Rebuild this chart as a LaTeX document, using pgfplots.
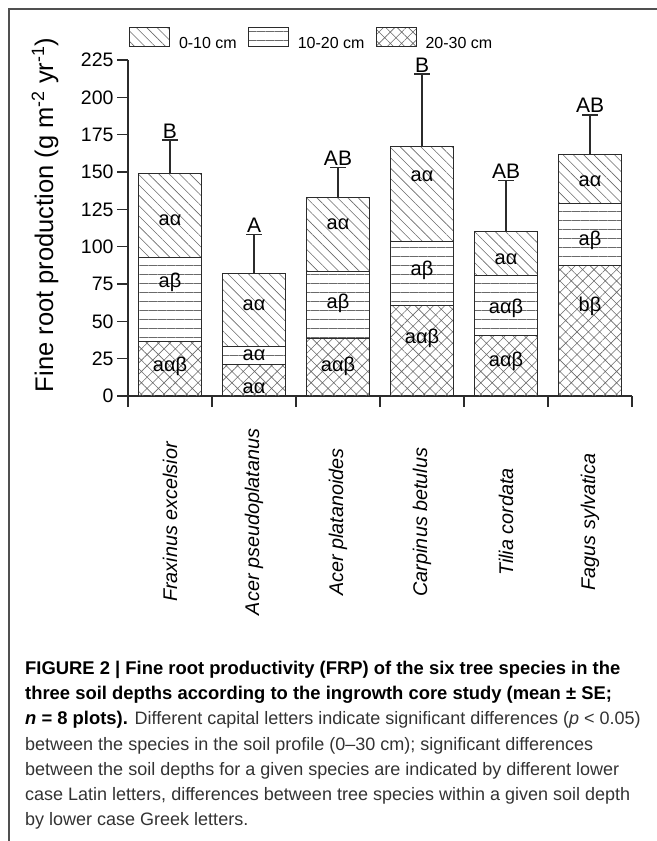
\documentclass[border=0pt]{standalone}
\usepackage{fontspec}
\setmainfont{Liberation Sans}
\usepackage{pgfplots}
\pgfplotsset{compat=1.18}
\usepackage{pgfplotstable}
\usetikzlibrary{patterns.meta}

\definecolor{ink}{HTML}{2B2B2B}
\definecolor{hatch}{HTML}{6A6A6A}
\definecolor{rule}{HTML}{505050}
\definecolor{captext}{HTML}{333333}

\newcommand{\fsz}[2]{\fontsize{#1bp}{#2bp}\selectfont}

% Fine root production per soil layer (g m-2 yr-1); x = species position,
% total = whole profile, se = standard error of the profile, grp = species letter
\pgfplotstableread{
x  d2030  d1020  d010  total  se    grp
0  36.4   56.5   56.4  149.3  22.1  B
1  21.2   11.8   49.2  82.2   26.1  A
2  38.8   44.7   49.5  133.0  19.9  AB
3  60.3   43.5   63.6  167.4  48.2  B
4  40.8   39.8   29.4  110.0  34.2  AB
5  87.1   41.5   33.2  161.8  26.4  AB
}\frp

% Significance letters written inside each layer, at height y
\pgfplotstableread{
x  y      lab
0  118    aα
0  76     aβ
0  20     aαβ
1  61     aα
1  27.5   aα
1  5.1    aα
2  115    aα
2  62     aβ
2  19.6   aαβ
3  146.9  aα
3  84.4   aβ
3  38.6   aαβ
4  91.5   aα
4  58.7   aαβ
4  23     aαβ
5  144    aα
5  104.5  aβ
5  59.8   bβ
}\inbar

\pgfplotsset{
  chartframe/.style={
    at={(128bp,-396bp)}, anchor=south west,
    width=504bp, height=336bp, scale only axis,
    xmin=-0.5, xmax=5.5, ymin=0, ymax=225,
    enlargelimits=false,
  },
  legbox/.style={legend image code/.code={\draw[##1] (0bp,-2.7bp) rectangle (40bp,15.7bp);}},
  layer/.style={draw=ink, line width=1bp, pattern color=hatch},
  deep/.style={layer, pattern={Hatch[angle=45,distance=8bp,line width=0.6bp]}},
  mid/.style={layer, pattern={Lines[angle=0,distance=9bp,line width=0.6bp]}},
  shallow/.style={layer, pattern={Lines[angle=-45,distance=7.3bp,line width=0.6bp]}},
}

\begin{document}
\begin{tikzpicture}[x=1bp,y=1bp]
\path[use as bounding box] (0,0) rectangle (657,-841);
\draw[rule, line width=1.4bp] (9,-841) -- (9,-9) -- (657,-9);

\begin{axis}[chartframe,
  ybar stacked, bar width=0.754,
  axis lines=left, axis line style={-, ink, line width=1.2bp},
  tick align=outside, major tick length=11bp,
  tick style={ink, line width=1.1bp},
  ytick={0,25,...,225},
  xtick={-0.5,0.5,...,5.5}, xticklabels={},
  extra x ticks={0,1,2,3,4,5},
  extra x tick labels={Fraxinus excelsior, Acer pseudoplatanus, Acer platanoides, Carpinus betulus, Tilia cordata, Fagus sylvatica},
  extra x tick style={major tick length=0pt, tick style={draw=none},
    tick label style={yshift=-126bp, rotate=90, anchor=center, font=\fsz{19.8}{22}\itshape}},
  yticklabel style={font=\fsz{19.5}{22}, text=black},
  /pgf/number format/assume math mode=true,
  ylabel={Fine root production (g m\textsuperscript{-2} yr\textsuperscript{-1})},
  every axis y label/.style={at={(axis description cs:-0.1488,0.539)}, rotate=90, anchor=base, inner sep=0pt, font=\fsz{25.5}{28}},
  legend columns=3,
  legend cell align=left,
  legend style={draw=none, fill=none, inner sep=0pt, outer sep=0pt,
    at={(axis description cs:0.002,1.064)}, anchor=west,
    font=\fsz{16}{18},
    /tikz/every even column/.append style={column sep=11bp},
    /tikz/every odd column/.append style={column sep=9bp},
    nodes={inner sep=0pt}},
]
\addlegendimage{legbox, shallow}
\addlegendimage{legbox, mid}
\addlegendimage{legbox, deep}
\addplot[forget plot, deep] table[x=x, y=d2030]{\frp};
\addplot[forget plot, mid] table[x=x, y=d1020]{\frp};
\addplot[forget plot, shallow] table[x=x, y=d010]{\frp};
\legend{0-10 cm, 10-20 cm, 20-30 cm}
\end{axis}

\begin{axis}[chartframe, hide axis, clip=false]
\addplot[draw=none, mark=none, forget plot,
  error bars/.cd, y dir=plus, y explicit, error mark=|,
  error bar style={draw=ink, line width=1.1bp},
  error mark options={draw=ink, line width=1.1bp, mark size=8bp}]
  table[x=x, y=total, y error=se]{\frp};
\addplot[draw=none, mark=none, nodes near coords, point meta=explicit symbolic,
  nodes near coords style={anchor=base, yshift=2bp, inner sep=0pt, font=\fsz{21}{24}, text=black}]
  table[x=x, y expr=\thisrow{total}+\thisrow{se}, meta=grp]{\frp};
\addplot[draw=none, mark=none, nodes near coords, point meta=explicit symbolic,
  nodes near coords style={anchor=center, inner sep=0pt, font=\fsz{20}{22}, text=black}]
  table[x=x, y=y, meta=lab]{\inbar};
\end{axis}

\begin{scope}[every node/.style={anchor=base west, inner sep=0pt}]
\node[text=black, font=\fsz{18.4}{25}] at (25,-674.5) {\bfseries FIGURE 2 | Fine root productivity (FRP) of the six tree species in the};
\node[text=black, font=\fsz{18.4}{25}] at (25,-699.7) {\bfseries three soil depths according to the ingrowth core study (mean ± SE;};
\node[text=captext, font=\fsz{18}{25}] at (25,-724.9) {{\color{black}\fontsize{18.4bp}{25bp}\selectfont\bfseries\itshape n}{\color{black}\fontsize{18.4bp}{25bp}\selectfont\bfseries\ = 8 plots).} Different capital letters indicate significant differences (\textit{p} < 0.05)};
\node[text=captext, font=\fsz{18}{25}] at (25,-750.1) {between the species in the soil profile (0–30 cm); significant differences};
\node[text=captext, font=\fsz{18}{25}] at (25,-775.3) {between the soil depths for a given species are indicated by different lower};
\node[text=captext, font=\fsz{18}{25}] at (25,-800.5) {case Latin letters, differences between tree species within a given soil depth};
\node[text=captext, font=\fsz{18}{25}] at (25,-825.7) {by lower case Greek letters.};
\end{scope}
\end{tikzpicture}
\end{document}
